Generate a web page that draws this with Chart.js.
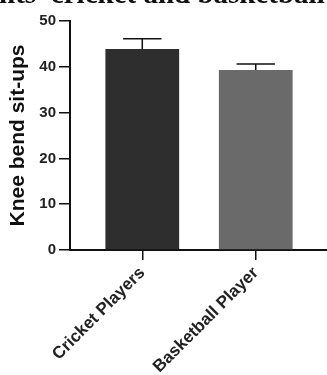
<!DOCTYPE html>
<html>
<head>
<meta charset="utf-8">
<script src="https://cdn.jsdelivr.net/npm/chart.js@4/dist/chart.umd.min.js"></script>
<style>
  html, body { margin: 0; padding: 0; background: #fff; overflow: hidden; }
  #wrap { position: relative; width: 327px; height: 375px; overflow: hidden; }
  #cap { position: absolute; left: -1px; top: -21px; font: bold 29px/29px "Liberation Serif", serif; color: #111; white-space: nowrap; }
  canvas { position: absolute; left: 0; top: 0; }
</style>
</head>
<body>
<div id="wrap">
  <canvas id="c" width="327" height="375"></canvas>
  <div id="cap">nts’ cricket and basketball</div>
</div>
<script>
const categories = ['Cricket Players', 'Basketball Player'];
const means = [43.9, 39.3];
const errors = [2.2, 1.3];
const barColors = ['#2e2e2e', '#6a6a6a'];
const yTicks = [0, 10, 20, 30, 40, 50];

const errorBars = {
  id: 'errorBars',
  afterDatasetsDraw(chart) {
    const meta = chart.getDatasetMeta(0);
    const y = chart.scales.y;
    const ctx = chart.ctx;
    ctx.save();
    ctx.strokeStyle = '#111';
    ctx.lineWidth = 1.5;
    meta.data.forEach((bar, i) => {
      const top = y.getPixelForValue(means[i] + errors[i]);
      const half = bar.width * 0.26;
      ctx.beginPath();
      ctx.moveTo(bar.x, bar.y);
      ctx.lineTo(bar.x, top);
      ctx.moveTo(bar.x - half, top);
      ctx.lineTo(bar.x + half, top);
      ctx.stroke();
    });
    ctx.restore();
  }
};

new Chart(document.getElementById('c'), {
  type: 'bar',
  data: {
    datasets: [{
      data: means.map((v, i) => ({ x: i, y: v })),
      backgroundColor: barColors,
      borderWidth: 0,
      barPercentage: 0.65,
      categoryPercentage: 1
    }]
  },
  options: {
    responsive: false,
    animation: false,
    events: [],
    layout: { padding: { top: 21, right: 0, bottom: 0, left: 0 } },
    plugins: { legend: { display: false }, tooltip: { enabled: false } },
    scales: {
      x: {
        type: 'linear',
        offset: false,
        min: -0.637,
        max: 1.628,
        afterBuildTicks(scale) { scale.ticks = categories.map((c, i) => ({ value: i })); },
        afterFit(scale) { scale.height = 125; },
        grid: { display: true, offset: false, drawOnChartArea: false, drawTicks: true, tickLength: 10, color: '#111', lineWidth: 1.5 },
        border: { display: true, color: '#111', width: 2 },
        ticks: {
          autoSkip: false,
          minRotation: 45,
          maxRotation: 45,
          padding: 3,
          color: '#222',
          font: { family: '"Liberation Sans", Arial, sans-serif', size: 17, weight: 'bold' },
          callback: (v) => categories[v] !== undefined ? categories[v] : ''
        }
      },
      y: {
        min: 0,
        max: 50,
        afterBuildTicks(scale) { scale.ticks = yTicks.map(v => ({ value: v })); },
        afterFit(scale) { scale.width = 70; },
        grid: { display: true, drawOnChartArea: false, drawTicks: true, tickLength: 11, color: '#111', lineWidth: 1.5 },
        border: { display: true, color: '#111', width: 2 },
        ticks: {
          padding: 3,
          color: '#222',
          font: { family: '"Liberation Sans", Arial, sans-serif', size: 15, weight: 'bold' }
        },
        title: {
          display: true,
          text: 'Knee bend sit-ups',
          color: '#111',
          padding: { top: 6, bottom: 0 },
          font: { family: '"Liberation Sans", Arial, sans-serif', size: 21, weight: 'bold' }
        }
      }
    }
  },
  plugins: [errorBars]
});
</script>
</body>
</html>
